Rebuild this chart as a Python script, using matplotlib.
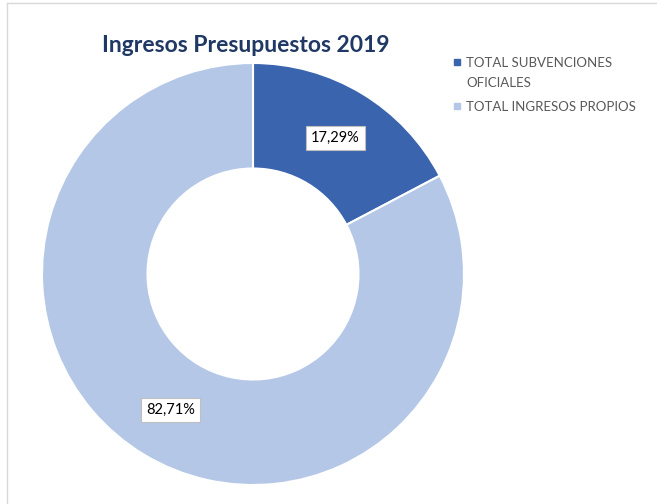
import math
import matplotlib.pyplot as plt
from matplotlib.lines import Line2D

etiquetas = ['TOTAL SUBVENCIONES\nOFICIALES', 'TOTAL INGRESOS PROPIOS']
valores = [17.29, 82.71]
colores = ['#3A64AD', '#B4C7E7']

plt.rcParams['font.family'] = ['Lato', 'DejaVu Sans']

fig = plt.figure(figsize=(6.57, 5.04), dpi=100)
ax = fig.add_axes([42/657, 19/504, 422/657, 422/504])

ax.pie(valores, colors=colores, startangle=90, counterclock=False,
       radius=1, wedgeprops=dict(width=0.5, edgecolor='white', linewidth=1.5))
for i, v in enumerate(valores):
    ini = 90 - sum(valores[:i]) * 3.6
    mid = math.radians(ini - v * 3.6 / 2)
    r = 0.755
    ax.text(r*math.cos(mid), r*math.sin(mid), ('%.2f%%' % v).replace('.', ','),
            ha='center', va='center', fontsize=10.5, color='black',
            bbox=dict(boxstyle='square,pad=0.35', fc='white', ec='#BFBFBF', lw=0.8))
ax.set_xlim(-1, 1)
ax.set_ylim(-1, 1)
ax.set_aspect('equal')
ax.axis('off')

fig.text(246/657, 1-45/504, 'Ingresos Presupuestos 2019', ha='center', va='center',
         fontsize=16.5, fontweight='bold', color='#203864')

# leyenda a mano
ys = [62, 106]
for lab, c, y in zip(etiquetas, colores, ys):
    fig.add_artist(Line2D([457/657], [1-y/504], marker='s', ls='', color=c, markersize=5))
    fig.text(466/657, 1-(y-5)/504, lab, ha='left', va='top', fontsize=9.5,
             color='#595959', linespacing=1.8)

# marco gris arriba e izquierda
fig.add_artist(Line2D([7/657, 1], [1-3/504, 1-3/504], color='#D9D9D9', lw=1))
fig.add_artist(Line2D([7/657, 7/657], [0, 1-3/504], color='#D9D9D9', lw=1))

fig.savefig('out.png', dpi=100)
